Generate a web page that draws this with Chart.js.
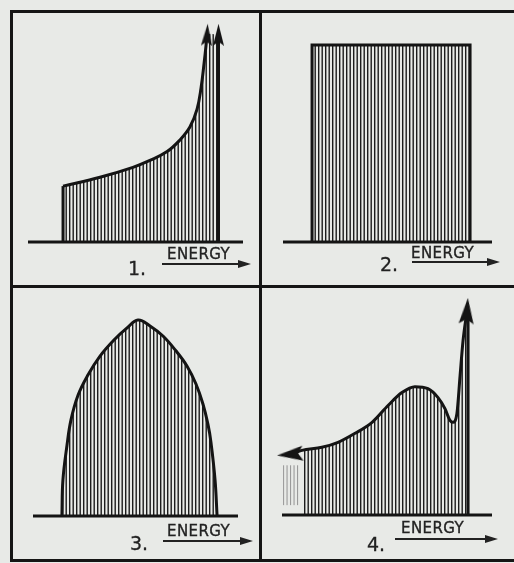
<!DOCTYPE html>
<html>
<head>
<meta charset="utf-8">
<script src="https://cdn.jsdelivr.net/npm/chart.js@4/dist/chart.umd.min.js"></script>
<style>
  html,body{margin:0;padding:0;}
  body{width:514px;height:563px;background:#e8eae7;position:relative;overflow:hidden;font-family:"DejaVu Sans",sans-serif;color:#222;}
  .fr{position:absolute;background:#151515;}
  canvas{position:absolute;}
  .lab{position:absolute;font-size:15px;line-height:15px;letter-spacing:0.4px;white-space:nowrap;-webkit-text-stroke:0.35px #222;}
  .num{position:absolute;font-size:19px;line-height:19px;white-space:nowrap;-webkit-text-stroke:0.3px #222;}
  .ar{position:absolute;height:2px;background:#222;}
  .ar::after{content:'';position:absolute;right:-3px;top:-3px;border-left:13px solid #222;border-top:4px solid transparent;border-bottom:4px solid transparent;}
</style>
</head>
<body>
<div class="fr" style="left:10px;top:10px;width:504px;height:3px"></div>
<div class="fr" style="left:10px;top:10px;width:3px;height:552px"></div>
<div class="fr" style="left:10px;top:559px;width:504px;height:3px"></div>
<div class="fr" style="left:259px;top:10px;width:3px;height:552px"></div>
<div class="fr" style="left:10px;top:285px;width:504px;height:3px"></div>

<canvas id="c1" width="246" height="272" style="left:13px;top:13px"></canvas>
<canvas id="c2" width="252" height="272" style="left:262px;top:13px"></canvas>
<canvas id="c3" width="246" height="271" style="left:13px;top:288px"></canvas>
<canvas id="c4" width="252" height="271" style="left:262px;top:288px"></canvas>

<div class="lab" style="left:167px;top:247px">ENERGY</div>
<div class="ar" style="left:162px;top:263px;width:86px"></div>
<div class="num" style="left:128px;top:259px">1.</div>

<div class="lab" style="left:411px;top:246px">ENERGY</div>
<div class="ar" style="left:412px;top:261px;width:85px"></div>
<div class="num" style="left:380px;top:255px">2.</div>

<div class="lab" style="left:167px;top:524px">ENERGY</div>
<div class="ar" style="left:163px;top:540px;width:87px"></div>
<div class="num" style="left:130px;top:534px">3.</div>

<div class="lab" style="left:401px;top:521px">ENERGY</div>
<div class="ar" style="left:395px;top:538px;width:100px"></div>
<div class="num" style="left:367px;top:535px">4.</div>

<script>
// ---- data (energy on x, intensity on y, both 0..10) ----
const p1Energy = [1.63, 3.35, 4.88, 5.67, 6.47, 7.07, 7.53, 7.86, 8.05, 8.19, 8.28, 8.33];
const p1Count  = [2.53, 2.93, 3.38, 3.69, 4.09, 4.62, 5.20, 6.00, 6.98, 8.09, 8.89, 9.38];
const p1EdgeEnergy = 8.86;
const p1EdgeTop = 9.38;

const p2Energy = [1.39, 1.39, 8.95, 8.95];
const p2Count  = [0, 8.76, 8.76, 0];

const p3Energy = [1.41, 1.46, 1.66, 1.85, 2.20, 2.68, 3.27, 3.95, 4.59, 5.12, 5.71, 6.34, 6.98, 7.51, 7.95, 8.29, 8.54, 8.68, 8.88, 8.98];
const p3Count  = [0, 1.64, 3.23, 4.36, 5.50, 6.41, 7.27, 8.00, 8.55, 8.91, 8.64, 8.18, 7.50, 6.82, 6.00, 5.09, 4.14, 3.36, 1.64, 0];

const p4Energy = [0.38, 0.95, 1.90, 2.67, 3.48, 4.29, 5.05, 5.71, 6.33, 6.95, 7.43, 7.76, 8.00, 8.14, 8.33, 8.48, 8.62, 8.81];
const p4Count  = [2.77, 2.95, 3.09, 3.32, 3.73, 4.23, 5.00, 5.59, 5.86, 5.77, 5.36, 4.86, 4.32, 4.23, 4.64, 6.36, 7.95, 9.32];
const p4EdgeEnergy = 8.86;
const p4EdgeTop = 9.32;
const p4FadeEnergy = [0.05, 0.86];
const p4FadeTop = 2.27;
const p4FadeBottom = 0.45;

const axisRange = [0, 10];

// ---- styles ----
const INK = '#141414';
function hatch(color, w) {
  const c = document.createElement('canvas');
  c.width = 7; c.height = 4;
  const g = c.getContext('2d');
  g.fillStyle = color;
  g.fillRect(0, 0, w, 4);
  g.fillRect(3.5, 0, w, 4);
  return g.createPattern(c, 'repeat');
}
function arrowHead(w, h) {
  const c = document.createElement('canvas');
  c.width = w; c.height = h;
  const g = c.getContext('2d');
  g.fillStyle = INK;
  g.beginPath();
  g.moveTo(w / 2, 0);
  g.lineTo(w, h);
  g.lineTo(w / 2, h * 0.82);
  g.lineTo(0, h);
  g.closePath();
  g.fill();
  return c;
}
const HATCH = hatch('#1c1c1c', 1.4);
const FADE = hatch('#9a9a9a', 1.1);
const ARROW = arrowHead(11, 22);
const BIG_ARROW = arrowHead(15, 26);

const pts = (xs, ys) => xs.map((x, i) => ({x: x, y: ys[i]}));

function outline(data, extra) {
  return Object.assign({
    data: data, borderColor: INK, borderWidth: 3, fill: false, tension: 0,
    pointRadius: 0, clip: false, order: 1, borderJoinStyle: 'round', borderCapStyle: 'butt'
  }, extra || {});
}
function withArrows(ds, map, img) {
  ds.pointStyle = ctx => (map[ctx.dataIndex] !== undefined ? img : false);
  ds.pointRadius = ctx => (map[ctx.dataIndex] !== undefined ? 8 : 0);
  ds.pointBorderWidth = 0;
  ds.rotation = ctx => (map[ctx.dataIndex] || 0);
  return ds;
}
function fillSet(data, extra) {
  return Object.assign({
    data: data, borderWidth: 0, borderColor: 'rgba(0,0,0,0)', backgroundColor: HATCH,
    fill: 'origin', pointRadius: 0, clip: false, order: 3
  }, extra || {});
}
function baseline() {
  return outline(pts(axisRange, [0, 0]), {order: 0});
}
function make(id, pad, datasets) {
  new Chart(document.getElementById(id), {
    type: 'line',
    data: {datasets: datasets},
    options: {
      responsive: false, animation: false, events: [],
      layout: {padding: pad},
      plugins: {legend: {display: false}, tooltip: {enabled: false}, title: {display: false}},
      scales: {
        x: {type: 'linear', display: false, min: axisRange[0], max: axisRange[1]},
        y: {type: 'linear', display: false, min: axisRange[0], max: axisRange[1]}
      }
    }
  });
}

// Panel 1
const p1Last = p1Energy.length - 1;
make('c1', {left: 15, right: 16, top: 4, bottom: 43}, [
  baseline(),
  outline(pts([p1Energy[0], p1Energy[0]], [0, p1Count[0]])),
  withArrows(outline(pts(p1Energy, p1Count), {tension: 0.4}), {[p1Last]: 3}, ARROW),
  withArrows(outline(pts([p1EdgeEnergy, p1EdgeEnergy], [0, p1EdgeTop])), {1: 0}, ARROW),
  fillSet(pts(p1Energy.concat([p1EdgeEnergy]), p1Count.concat([p1EdgeTop])), {tension: 0.4})
]);

// Panel 2
make('c2', {left: 21, right: 22, top: 4, bottom: 43}, [
  baseline(),
  fillSet(pts(p2Energy, p2Count), {borderWidth: 3, borderColor: INK, order: 1})
]);

// Panel 3
make('c3', {left: 20, right: 21, top: 8, bottom: 43}, [
  baseline(),
  fillSet(pts(p3Energy, p3Count), {borderWidth: 3, borderColor: INK, order: 1, tension: 0.4})
]);

// Panel 4
const p4Last = p4Energy.length - 1;
make('c4', {left: 20, right: 22, top: 7, bottom: 44}, [
  baseline(),
  withArrows(outline(pts(p4Energy, p4Count), {cubicInterpolationMode: 'monotone'}), {0: -95, [p4Last]: 4}, BIG_ARROW),
  outline(pts([p4EdgeEnergy, p4EdgeEnergy], [0, p4EdgeTop])),
  fillSet(pts(p4Energy.slice(1).concat([p4EdgeEnergy]), p4Count.slice(1).concat([p4EdgeTop])), {cubicInterpolationMode: 'monotone'}),
  fillSet(pts(p4FadeEnergy, [p4FadeTop, p4FadeTop]), {backgroundColor: FADE, fill: {value: p4FadeBottom}})
]);
</script>
</body>
</html>
